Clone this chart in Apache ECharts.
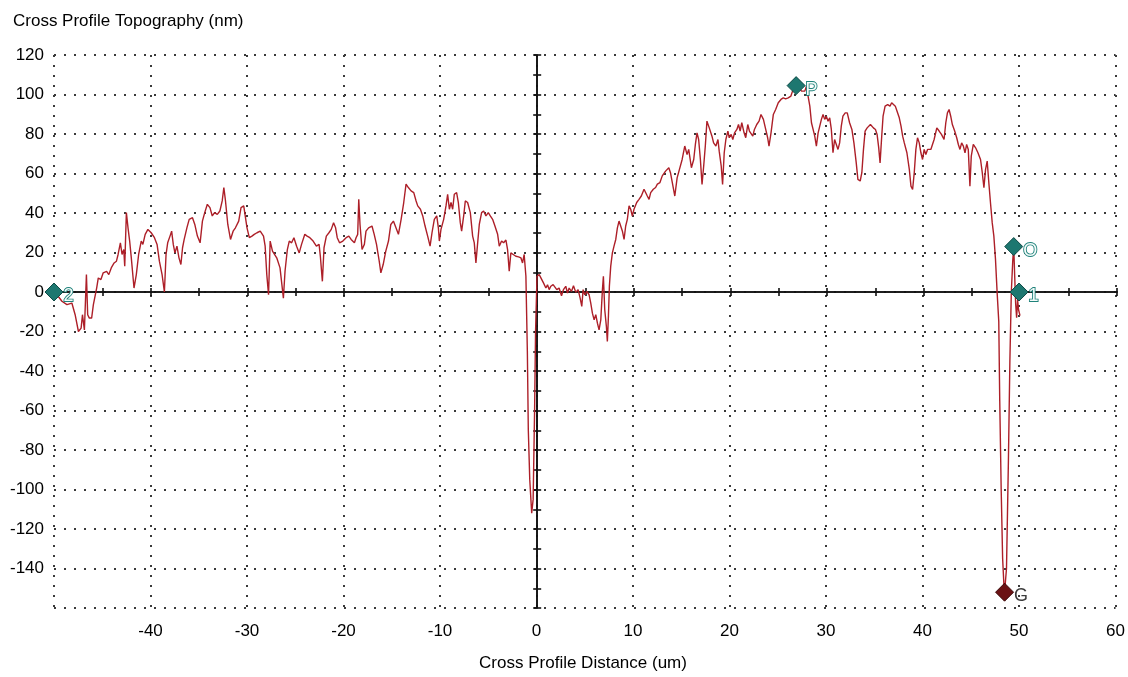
<!DOCTYPE html>
<html>
<head>
<meta charset="utf-8">
<title>Cross Profile</title>
<script src="https://cdn.jsdelivr.net/npm/echarts@6/dist/echarts.min.js"></script>
<style>
  html, body { margin: 0; padding: 0; background: #fff; }
  #chart { width: 1128px; height: 677px; }
</style>
</head>
<body>
<div id="chart"></div>
<script>
// Cross-section profile: distance along the cut (um) vs. surface height (nm)
const distances = [
  -49.9, -49.18, -48.66, -48.15, -47.81, -47.47, -47.19, -47.05, -46.85, -46.64,
  -46.51, -46.34, -46.10, -45.92, -45.58, -45.41, -45.14, -44.90, -44.55, -44.32,
  -44.04, -43.77, -43.53, -43.36, -43.12, -42.95, -42.77, -42.67, -42.50, -42.33,
  -42.16, -41.99, -41.71, -41.47, -41.23, -40.96, -40.79, -40.55, -40.27, -39.93,
  -39.59, -39.32, -39.08, -38.80, -38.56, -38.39, -38.22, -37.98, -37.81, -37.64,
  -37.47, -37.26, -37.05, -36.85, -36.68, -36.51, -36.23, -35.99, -35.65, -35.41,
  -35.14, -34.86, -34.62, -34.38, -34.11, -33.84, -33.60, -33.36, -33.08, -32.81,
  -32.57, -32.40, -32.23, -31.99, -31.71, -31.44, -31.20, -30.86, -30.62, -30.34,
  -30.17, -30.00, -29.76, -29.49, -29.25, -28.97, -28.63, -28.29, -28.12, -27.95,
  -27.77, -27.60, -27.36, -27.19, -26.92, -26.58, -26.23, -26.06, -25.82, -25.62,
  -25.38, -25.14, -24.86, -24.59, -24.35, -24.01, -23.77, -23.49, -23.15, -22.81,
  -22.53, -22.40, -22.19, -22.02, -21.78, -21.51, -21.27, -21.03, -20.82, -20.65,
  -20.41, -20.07, -19.73, -19.45, -19.21, -18.87, -18.70, -18.53, -18.42, -18.29,
  -18.08, -17.84, -17.67, -17.40, -17.05, -16.82, -16.58, -16.30, -16.13, -15.89,
  -15.62, -15.34, -15.10, -14.83, -14.31, -14.03, -13.76, -13.52, -13.28, -13.00,
  -12.72, -12.48, -12.31, -12.03, -11.79, -11.55, -11.28, -11.03, -10.83, -10.59,
  -10.34, -10.17, -10.07, -9.90, -9.62, -9.38, -9.21, -9.03, -8.86, -8.69,
  -8.52, -8.28, -8.10, -7.90, -7.76, -7.55, -7.38, -7.14, -6.86, -6.62,
  -6.45, -6.28, -6.10, -5.93, -5.69, -5.48, -5.24, -5.00, -4.79, -4.55,
  -4.31, -4.03, -3.86, -3.62, -3.41, -3.17, -3.00, -2.83, -2.66, -2.41,
  -2.14, -1.86, -1.62, -1.45, -1.28, -1.10, -0.95, -0.85, -0.70, -0.50,
  -0.35, -0.20, -0.10, 0.05, 0.10, 0.28, 0.45, 0.72, 0.97, 1.14,
  1.31, 1.48, 1.72, 1.90, 2.10, 2.34, 2.59, 2.79, 3.03, 3.21,
  3.38, 3.62, 3.83, 4.07, 4.31, 4.52, 4.69, 4.83, 5.00, 5.21,
  5.45, 5.62, 5.79, 5.97, 6.14, 6.31, 6.48, 6.66, 6.83, 6.93,
  7.07, 7.24, 7.34, 7.45, 7.55, 7.69, 7.86, 8.03, 8.21, 8.38,
  8.55, 8.72, 8.90, 9.07, 9.24, 9.41, 9.59, 9.76, 9.93, 10.10,
  10.38, 10.62, 10.86, 11.14, 11.31, 11.48, 11.66, 11.83, 12.10, 12.34,
  12.52, 12.79, 13.03, 13.37, 13.71, 13.88, 14.05, 14.33, 14.57, 14.81,
  15.09, 15.36, 15.60, 15.77, 16.05, 16.29, 16.46, 16.63, 16.80, 16.98,
  17.15, 17.32, 17.49, 17.66, 17.90, 18.18, 18.35, 18.59, 18.80, 18.93,
  19.14, 19.28, 19.45, 19.62, 19.83, 19.97, 20.17, 20.34, 20.52, 20.76,
  20.93, 21.10, 21.27, 21.51, 21.68, 21.89, 22.06, 22.23, 22.41, 22.58,
  22.82, 23.06, 23.26, 23.51, 23.75, 23.95, 24.09, 24.30, 24.54, 24.78,
  25.05, 25.33, 25.57, 25.81, 26.08, 26.36, 26.53, 26.77, 27.11, 27.46,
  27.80, 27.97, 28.14, 28.32, 28.49, 28.66, 28.83, 29.00, 29.18, 29.35,
  29.52, 29.69, 29.86, 30.03, 30.21, 30.38, 30.55, 30.72, 30.89, 31.07,
  31.24, 31.41, 31.58, 31.75, 31.99, 32.20, 32.44, 32.68, 32.89, 33.13,
  33.30, 33.54, 33.71, 33.88, 34.05, 34.26, 34.40, 34.60, 34.74, 34.91,
  35.12, 35.29, 35.46, 35.60, 35.77, 35.91, 36.12, 36.39, 36.63, 36.80,
  36.98, 37.18, 37.35, 37.59, 37.77, 37.94, 38.11, 38.38, 38.63, 38.80,
  38.97, 39.14, 39.31, 39.48, 39.66, 39.83, 40.00, 40.17, 40.34, 40.52,
  40.86, 41.03, 41.20, 41.48, 41.72, 41.96, 42.23, 42.41, 42.58, 42.75,
  42.92, 43.09, 43.33, 43.54, 43.71, 43.88, 44.05, 44.23, 44.40, 44.57,
  44.74, 44.91, 45.05, 45.26, 45.50, 45.74, 46.01, 46.19, 46.36, 46.53,
  46.70, 46.87, 47.04, 47.22, 47.39, 47.56, 47.73, 47.90, 48.00, 48.15,
  48.30, 48.45, 48.50, 48.70, 48.90, 49.05, 49.20, 49.35, 49.45, 49.55,
  49.65, 49.75, 49.85, 49.95, 50.10
];

const heights = [
  0.0, -4.7, -6.4, -5.6, -11.5, -20.0, -18.3, -11.5, -19.2, 8.8,
  -11.5, -13.2, -13.2, -6.4, 2.0, 7.1, 6.3, 9.7, 10.5, 8.8,
  12.5, 14.7, 15.6, 19.0, 24.9, 19.0, 21.5, 13.1, 40.2, 32.5,
  25.8, 17.3, 2.0, 8.8, 19.0, 25.8, 24.1, 29.2, 31.7, 30.0,
  27.5, 24.1, 15.6, 8.8, 0.0, 19.0, 24.9, 28.3, 30.8, 24.1,
  19.8, 23.2, 17.3, 13.9, 22.4, 26.6, 32.5, 36.8, 37.6, 34.2,
  28.3, 24.9, 35.9, 40.2, 44.4, 42.7, 38.5, 40.2, 39.3, 41.0,
  46.1, 52.9, 46.1, 34.2, 26.6, 30.8, 32.5, 35.9, 42.7, 43.6,
  42.7, 32.5, 27.5, 28.3, 29.2, 30.0, 30.8, 28.3, 23.2, 8.8,
  -1.4, 25.8, 20.7, 19.8, 17.3, 12.2, -3.1, 10.5, 21.5, 25.8,
  24.9, 27.5, 23.2, 19.8, 24.1, 29.2, 28.3, 27.5, 25.8, 23.2,
  24.1, 18.1, 5.4, 22.4, 28.3, 30.0, 31.7, 35.1, 32.5, 27.5,
  24.9, 25.8, 27.5, 28.3, 26.6, 24.9, 27.5, 29.2, 46.9, 34.2,
  21.5, 24.1, 30.8, 32.5, 33.4, 29.2, 24.1, 15.6, 9.7, 13.9,
  20.7, 25.8, 34.2, 35.9, 29.2, 36.8, 45.3, 54.6, 52.9, 51.2,
  50.3, 46.1, 43.6, 41.9, 38.5, 33.4, 28.3, 23.2, 30.0, 36.8,
  38.5, 32.5, 25.8, 31.7, 36.8, 43.6, 49.5, 41.9, 45.3, 41.9,
  49.5, 50.3, 45.3, 35.1, 30.8, 38.5, 46.1, 45.3, 40.2, 28.3,
  24.9, 14.7, 24.9, 34.2, 40.2, 41.0, 38.5, 40.2, 38.5, 36.8,
  33.4, 29.2, 23.2, 25.8, 24.9, 26.3, 21.5, 10.5, 19.8, 19.0,
  18.1, 17.8, 17.3, 14.7, 19.0, 8.0, -30.0, -70.0, -95.0, -112.0,
  -105.0, -60.0, -20.0, 8.0, 8.0, 8.8, 8.3, 4.6, 2.0, 3.7,
  1.2, 2.9, 3.7, 4.6, 1.2, 2.0, -1.9, 1.2, 2.9, -0.5,
  2.0, 0.3, 3.2, -0.2, 1.2, -3.1, -7.3, 1.2, -1.4, 0.3,
  -1.4, -5.6, -10.7, -14.1, -11.5, -15.8, -19.2, -14.1, 1.2, 8.0,
  -9.0, -17.5, -25.1, -12.4, 2.9, 13.1, 19.8, 23.2, 26.6, 32.5,
  35.9, 35.1, 30.8, 26.6, 33.4, 36.8, 43.6, 41.9, 38.5, 41.9,
  45.3, 46.9, 48.6, 52.0, 52.0, 48.6, 46.9, 50.3, 52.0, 52.9,
  54.6, 55.4, 58.8, 61.2, 62.9, 60.4, 61.2, 48.6, 57.8, 62.1,
  67.1, 73.9, 69.6, 72.2, 62.9, 67.1, 74.7, 80.6, 77.2, 67.1,
  54.5, 63.7, 73.9, 86.5, 83.1, 78.9, 75.5, 73.9, 77.2, 71.3,
  63.7, 54.5, 70.5, 77.2, 81.5, 78.1, 79.8, 77.2, 80.6, 82.3,
  84.8, 81.5, 85.7, 80.6, 78.1, 84.8, 81.5, 80.6, 78.9, 82.3,
  84.8, 86.5, 89.9, 87.4, 82.3, 78.1, 73.9, 80.6, 89.9, 92.4,
  95.8, 97.5, 98.3, 97.8, 98.3, 99.2, 101.7, 102.5, 104.2, 101.7,
  101.7, 104.2, 99.2, 94.1, 85.7, 82.3, 78.9, 73.9, 80.6, 84.0,
  87.4, 89.9, 87.4, 89.0, 86.5, 88.2, 82.3, 70.5, 77.2, 78.1,
  72.2, 75.5, 84.0, 89.0, 90.7, 90.7, 85.7, 82.3, 75.5, 65.4,
  57.0, 56.2, 60.4, 72.2, 81.5, 83.1, 82.3, 84.8, 85.7, 83.1,
  82.3, 79.8, 73.0, 65.4, 78.9, 89.0, 94.1, 94.9, 94.1, 95.8,
  96.6, 94.1, 91.6, 88.2, 84.0, 78.9, 75.5, 70.5, 62.1, 53.6,
  51.9, 60.4, 72.2, 78.1, 75.5, 70.5, 67.1, 72.2, 69.6, 72.2,
  72.2, 73.0, 77.2, 83.1, 81.5, 79.8, 77.2, 85.7, 90.7, 92.4,
  89.0, 84.8, 81.5, 78.1, 74.7, 72.2, 75.5, 73.9, 70.5, 74.7,
  72.2, 53.6, 68.8, 74.7, 73.0, 70.5, 67.1, 60.4, 52.8, 62.1,
  66.3, 55.3, 45.2, 35.1, 28.3, 16.5, -0.3, -15.0, -55.0, -100.0,
  -135.0, -150.0, -152.0, -140.0, -85.0, -35.0, 0.0, 16.0, 23.0, 8.0,
  -6.0, -13.0, -4.0, -9.0, -12.0
];

// Cursor markers placed on the profile
const markerNames = ['2', 'P', 'O', '1', 'G'];
const markerX = [-50, 26.9, 49.45, 50.0, 48.5];
const markerY = [0, 104.5, 23, 0, -152];
const markerFill = ['#1d7770', '#1d7770', '#1d7770', '#1d7770', '#6b1214'];

// Axis ranges and steps
const xMin = -50, xMax = 60, xStep = 10, xMinorStep = 5;
const yMin = -160, yMax = 120, yStep = 20, yMinorStep = 10;

const profile = distances.map((d, i) => [d, heights[i]]);
const markers = markerNames.map((n, i) => ({
  name: n,
  value: [markerX[i], markerY[i]],
  itemStyle: {
    color: markerFill[i], opacity: 1,
    borderColor: i === 4 ? '#3a0808' : '#0e4a45', borderWidth: 1
  },
  label: i === 4
    ? { color: '#3c3c3c', textBorderWidth: 0 }
    : { color: '#f4fbfa', textBorderColor: '#1f827a', textBorderWidth: 1.8 }
}));

const FONT = 'Liberation Sans, Arial, sans-serif';
const rect = { left: 54, top: 55, width: 1063, height: 553 };
const dots = { type: [2, 8], color: '#3a3a3a', width: 2 };
const axisPen = { color: '#111', width: 1.6 };

const chart = echarts.init(document.getElementById('chart'), null, { renderer: 'canvas' });

chart.setOption({
  animation: false,
  backgroundColor: '#ffffff',
  grid: [
    Object.assign({ containLabel: false }, rect),
    Object.assign({ containLabel: false }, rect),
    Object.assign({ containLabel: false }, rect)
  ],
  xAxis: [
    {
      gridIndex: 0, type: 'value', min: xMin, max: xMax, interval: xStep,
      axisLine: { show: false }, axisTick: { show: false },
      axisLabel: { showMinLabel: false, fontSize: 17, fontFamily: FONT, color: '#000', margin: 15 },
      splitLine: { show: true, lineStyle: dots }
    },
    {
      gridIndex: 1, type: 'value', min: xMin, max: xMax, interval: xMinorStep,
      axisLine: { show: true, onZero: true, lineStyle: axisPen },
      axisTick: { show: true, inside: false, length: 4, lineStyle: axisPen },
      axisLabel: { show: false }, splitLine: { show: false }
    },
    {
      gridIndex: 2, type: 'value', min: xMin, max: xMax, interval: xMinorStep,
      axisLine: { show: true, onZero: true, lineStyle: axisPen },
      axisTick: { show: true, inside: true, length: 4, lineStyle: axisPen },
      axisLabel: { show: false }, splitLine: { show: false }
    }
  ],
  yAxis: [
    {
      gridIndex: 0, type: 'value', min: yMin, max: yMax, interval: yStep,
      axisLine: { show: false }, axisTick: { show: false },
      axisLabel: { showMinLabel: false, fontSize: 17, fontFamily: FONT, color: '#000', margin: 10 },
      splitLine: { show: true, lineStyle: dots }
    },
    {
      gridIndex: 1, type: 'value', min: yMin, max: yMax, interval: yMinorStep,
      axisLine: { show: true, onZero: true, lineStyle: axisPen },
      axisTick: { show: true, inside: false, length: 4, lineStyle: axisPen },
      axisLabel: { show: false }, splitLine: { show: false }
    },
    {
      gridIndex: 2, type: 'value', min: yMin, max: yMax, interval: yMinorStep,
      axisLine: { show: true, onZero: true, lineStyle: axisPen },
      axisTick: { show: true, inside: true, length: 4, lineStyle: axisPen },
      axisLabel: { show: false }, splitLine: { show: false }
    }
  ],
  graphic: [
    {
      type: 'text', left: 13, top: 13, z: 10,
      style: { text: 'Cross Profile Topography (nm)', font: '17px ' + FONT, fill: '#000' }
    },
    {
      type: 'text', x: 583, y: 663, z: 10,
      style: { text: 'Cross Profile Distance (um)', font: '17px ' + FONT, fill: '#000',
               align: 'center', verticalAlign: 'middle' }
    }
  ],
  series: [
    {
      type: 'line', xAxisIndex: 0, yAxisIndex: 0, data: profile,
      symbol: 'none', z: 5,
      lineStyle: { color: '#ad1f28', width: 1.4 }
    },
    {
      type: 'scatter', xAxisIndex: 0, yAxisIndex: 0, data: markers,
      symbol: 'diamond', symbolSize: [18, 18], clip: false, z: 8,
      label: {
        show: true, position: 'right', distance: 0, offset: [0, 4],
        formatter: p => p.name, fontSize: 18, fontFamily: FONT
      }
    }
  ]
});
</script>
</body>
</html>
